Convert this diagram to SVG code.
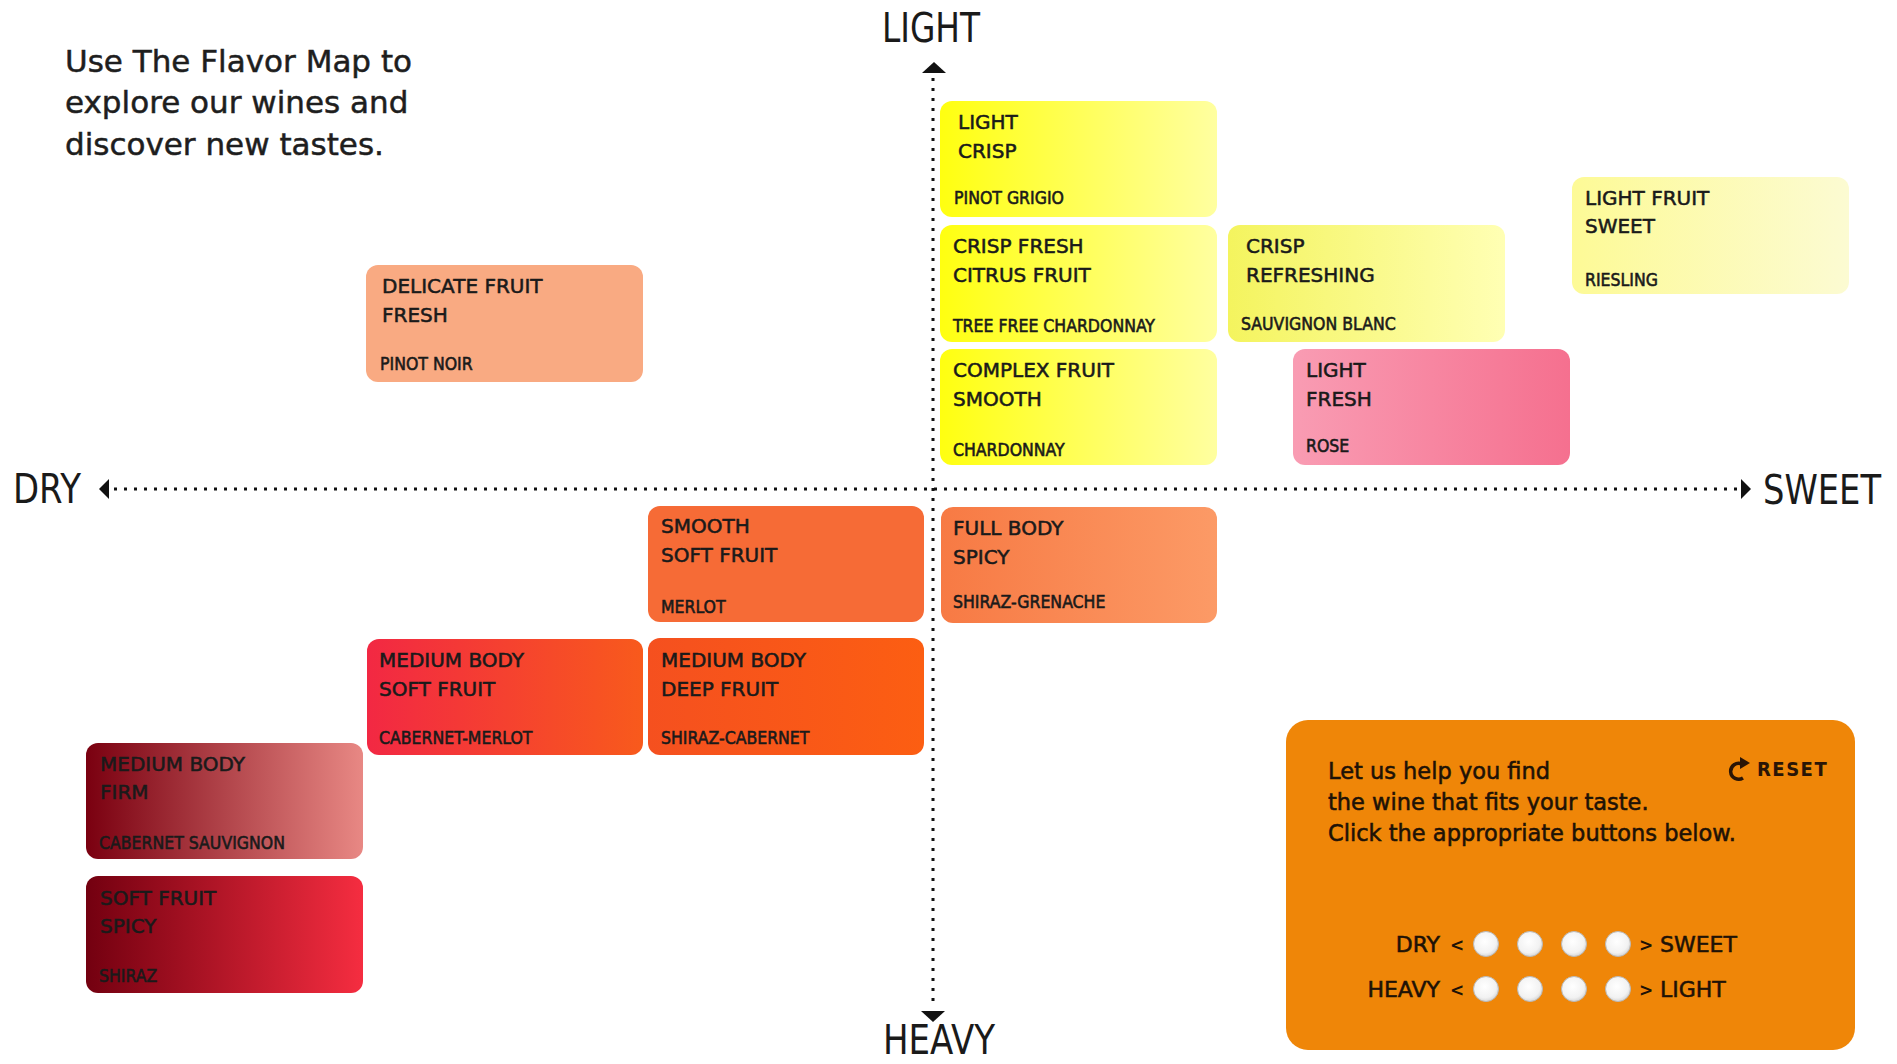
<svg xmlns="http://www.w3.org/2000/svg" width="1897" height="1064" viewBox="0 0 1897 1064">
  <style>
    .t { font-family: 'DejaVu Sans', 'Liberation Sans', sans-serif; font-size: 20px; fill: #1a1a1a; stroke: #1a1a1a; stroke-width: 0.55px; }
    .s { font-family: 'DejaVu Sans Condensed', 'DejaVu Sans', sans-serif; font-stretch: condensed; font-size: 17.5px; fill: #1a1a1a; stroke: #1a1a1a; stroke-width: 0.55px; }
    .ax { font-family: 'DejaVu Sans Condensed', 'DejaVu Sans', sans-serif; font-stretch: condensed; font-size: 40px; fill: #1a1a1a; }
    .head { font-family: 'DejaVu Sans', 'Liberation Sans', sans-serif; font-size: 31px; fill: #1e1e1e; stroke: #1e1e1e; stroke-width: 0.5px; }
    .p { font-family: 'DejaVu Sans', 'Liberation Sans', sans-serif; font-size: 22.5px; fill: #1e1206; stroke: #1e1206; stroke-width: 0.55px; }
    .lbl { font-family: 'DejaVu Sans', 'Liberation Sans', sans-serif; font-size: 22px; fill: #1e1206; stroke: #1e1206; stroke-width: 0.55px; }
    .lt { font-family: 'DejaVu Sans', 'Liberation Sans', sans-serif; font-size: 17px; font-weight: bold; fill: #1e1206; }
    .box { stroke: none; }
    .axis { fill: none; stroke: #111; stroke-width: 3; stroke-dasharray: 3 7; }
    .btn { fill: url(#btn); stroke: #b9b9b9; stroke-width: 1; }
  </style>
  <defs>
    <linearGradient id="g-yel" x1="0" y1="0" x2="1" y2="0">
      <stop offset="0" stop-color="#FFFF10"/><stop offset="1" stop-color="#FFFFA0"/>
    </linearGradient>
    <linearGradient id="g-sauv" x1="0" y1="0" x2="1" y2="0">
      <stop offset="0" stop-color="#F4F45E"/><stop offset="1" stop-color="#FFFFB4"/>
    </linearGradient>
    <linearGradient id="g-ries" x1="0" y1="0" x2="1" y2="0">
      <stop offset="0" stop-color="#FDFA96"/><stop offset="1" stop-color="#FCFBD2"/>
    </linearGradient>
    <linearGradient id="g-rose" x1="0" y1="0" x2="1" y2="0">
      <stop offset="0" stop-color="#F99CB3"/><stop offset="1" stop-color="#F5708F"/>
    </linearGradient>
    <linearGradient id="g-sgren" x1="0" y1="0" x2="1" y2="0">
      <stop offset="0" stop-color="#F77A44"/><stop offset="1" stop-color="#FC9A66"/>
    </linearGradient>
    <linearGradient id="g-cabmer" x1="0" y1="0" x2="1" y2="0">
      <stop offset="0" stop-color="#F22843"/><stop offset="1" stop-color="#F85A1C"/>
    </linearGradient>
    <linearGradient id="g-shcab" x1="0" y1="0" x2="1" y2="0">
      <stop offset="0" stop-color="#F5501F"/><stop offset="1" stop-color="#FC5E12"/>
    </linearGradient>
    <linearGradient id="g-cabsauv" x1="0" y1="0" x2="1" y2="0">
      <stop offset="0" stop-color="#7A0010"/><stop offset="1" stop-color="#E88884"/>
    </linearGradient>
    <linearGradient id="g-shiraz" x1="0" y1="0" x2="1" y2="0">
      <stop offset="0" stop-color="#730010"/><stop offset="1" stop-color="#F52D40"/>
    </linearGradient>
    <radialGradient id="btn" cx="0.45" cy="0.4" r="0.6">
      <stop offset="0" stop-color="#ffffff"/><stop offset="0.75" stop-color="#f2f2f2"/><stop offset="1" stop-color="#d8d8d8"/>
    </radialGradient>
  </defs>

  <rect width="1897" height="1064" fill="#ffffff"/>

  <!-- intro -->
  <g id="intro">
    <text class="head" x="65" y="72">Use The Flavor Map to</text>
    <text class="head" x="65" y="113">explore our wines and</text>
    <text class="head" x="65" y="155">discover new tastes.</text>
  </g>

  <!-- axes -->
  <g id="connectors">
    <line class="axis" x1="933" y1="78" x2="933" y2="1008"/>
    <line class="axis" x1="114" y1="489" x2="1738" y2="489"/>
    <polygon points="934,62 946,73 922,73" fill="#111"/>
    <polygon points="933,1022 945,1011 921,1011" fill="#111"/>
    <polygon points="99,489 109,479 109,499" fill="#111"/>
    <polygon points="1751,489 1741,479 1741,499" fill="#111"/>
  </g>

  <g id="axis-labels">
    <text class="ax" x="882" y="42" textLength="98" lengthAdjust="spacingAndGlyphs">LIGHT</text>
    <text class="ax" x="883" y="1054" font-size="36" textLength="112" lengthAdjust="spacingAndGlyphs">HEAVY</text>
    <text class="ax" x="13" y="503" textLength="68" lengthAdjust="spacingAndGlyphs">DRY</text>
    <text class="ax" x="1763" y="504" textLength="118" lengthAdjust="spacingAndGlyphs">SWEET</text>
  </g>

  <!-- wine nodes -->
  <g id="pinot-grigio">
    <rect class="box" x="940" y="101" width="277" height="116" rx="12" fill="url(#g-yel)"/>
    <text class="t" x="958" y="129">LIGHT</text>
    <text class="t" x="958" y="158">CRISP</text>
    <text class="s" x="954" y="204">PINOT GRIGIO</text>
  </g>
  <g id="tree-free-chardonnay">
    <rect class="box" x="940" y="225" width="277" height="117" rx="12" fill="url(#g-yel)"/>
    <text class="t" x="953" y="253">CRISP FRESH</text>
    <text class="t" x="953" y="282">CITRUS FRUIT</text>
    <text class="s" x="953" y="332">TREE FREE CHARDONNAY</text>
  </g>
  <g id="chardonnay">
    <rect class="box" x="940" y="349" width="277" height="116" rx="12" fill="url(#g-yel)"/>
    <text class="t" x="953" y="377">COMPLEX FRUIT</text>
    <text class="t" x="953" y="406">SMOOTH</text>
    <text class="s" x="953" y="456">CHARDONNAY</text>
  </g>
  <g id="sauvignon-blanc">
    <rect class="box" x="1228" y="225" width="277" height="117" rx="12" fill="url(#g-sauv)"/>
    <text class="t" x="1246" y="253">CRISP</text>
    <text class="t" x="1246" y="282">REFRESHING</text>
    <text class="s" x="1241" y="330">SAUVIGNON BLANC</text>
  </g>
  <g id="riesling">
    <rect class="box" x="1572" y="177" width="277" height="117" rx="12" fill="url(#g-ries)"/>
    <text class="t" x="1585" y="205">LIGHT FRUIT</text>
    <text class="t" x="1585" y="233">SWEET</text>
    <text class="s" x="1585" y="286">RIESLING</text>
  </g>
  <g id="rose">
    <rect class="box" x="1293" y="349" width="277" height="116" rx="12" fill="url(#g-rose)"/>
    <text class="t" x="1306" y="377">LIGHT</text>
    <text class="t" x="1306" y="406">FRESH</text>
    <text class="s" x="1306" y="452">ROSE</text>
  </g>
  <g id="pinot-noir">
    <rect class="box" x="366" y="265" width="277" height="117" rx="12" fill="#F9AA82"/>
    <text class="t" x="382" y="293">DELICATE FRUIT</text>
    <text class="t" x="382" y="322">FRESH</text>
    <text class="s" x="380" y="370">PINOT NOIR</text>
  </g>
  <g id="merlot">
    <rect class="box" x="648" y="506" width="276" height="116" rx="12" fill="#F66B36"/>
    <text class="t" x="661" y="533">SMOOTH</text>
    <text class="t" x="661" y="562">SOFT FRUIT</text>
    <text class="s" x="661" y="613">MERLOT</text>
  </g>
  <g id="shiraz-grenache">
    <rect class="box" x="941" y="507" width="276" height="116" rx="12" fill="url(#g-sgren)"/>
    <text class="t" x="953" y="535">FULL BODY</text>
    <text class="t" x="953" y="564">SPICY</text>
    <text class="s" x="953" y="608">SHIRAZ-GRENACHE</text>
  </g>
  <g id="cabernet-merlot">
    <rect class="box" x="367" y="639" width="276" height="116" rx="12" fill="url(#g-cabmer)"/>
    <text class="t" x="379" y="667">MEDIUM BODY</text>
    <text class="t" x="379" y="696">SOFT FRUIT</text>
    <text class="s" x="379" y="744">CABERNET-MERLOT</text>
  </g>
  <g id="shiraz-cabernet">
    <rect class="box" x="648" y="638" width="276" height="117" rx="12" fill="url(#g-shcab)"/>
    <text class="t" x="661" y="667">MEDIUM BODY</text>
    <text class="t" x="661" y="696">DEEP FRUIT</text>
    <text class="s" x="661" y="744">SHIRAZ-CABERNET</text>
  </g>
  <g id="cabernet-sauvignon">
    <rect class="box" x="86" y="743" width="277" height="116" rx="12" fill="url(#g-cabsauv)"/>
    <text class="t" x="100" y="771">MEDIUM BODY</text>
    <text class="t" x="100" y="799">FIRM</text>
    <text class="s" x="99" y="849">CABERNET SAUVIGNON</text>
  </g>
  <g id="shiraz">
    <rect class="box" x="86" y="876" width="277" height="117" rx="12" fill="url(#g-shiraz)"/>
    <text class="t" x="100" y="905">SOFT FRUIT</text>
    <text class="t" x="100" y="933">SPICY</text>
    <text class="s" x="99" y="982">SHIRAZ</text>
  </g>

  <!-- taste finder panel -->
  <g id="finder">
    <rect x="1286" y="720" width="569" height="330" rx="22" fill="#EF8608"/>
    <text class="p" x="1328" y="779">Let us help you find</text>
    <text class="p" x="1328" y="810">the wine that fits your taste.</text>
    <text class="p" x="1328" y="841">Click the appropriate buttons below.</text>

    <g id="reset">
      <path d="M1742,764 A8,8 0 1 0 1743,778" fill="none" stroke="#2a1506" stroke-width="3.5"/>
      <polygon points="1740,757 1750,763 1740,769" fill="#2a1506"/>
      <text x="1757" y="776" font-family="'DejaVu Sans Condensed', 'DejaVu Sans', sans-serif" font-stretch="condensed" font-weight="bold" font-size="20" letter-spacing="1.5" fill="#2a1506">RESET</text>
    </g>

    <text class="lbl" x="1440" y="952" text-anchor="end">DRY</text>
    <text class="lt" x="1450" y="951">&lt;</text>
    <circle class="btn" cx="1486" cy="944" r="12.5"/>
    <circle class="btn" cx="1530" cy="944" r="12.5"/>
    <circle class="btn" cx="1574" cy="944" r="12.5"/>
    <circle class="btn" cx="1618" cy="944" r="12.5"/>
    <text class="lt" x="1639" y="951">&gt;</text>
    <text class="lbl" x="1660" y="952">SWEET</text>

    <text class="lbl" x="1440" y="997" text-anchor="end">HEAVY</text>
    <text class="lt" x="1450" y="996">&lt;</text>
    <circle class="btn" cx="1486" cy="989" r="12.5"/>
    <circle class="btn" cx="1530" cy="989" r="12.5"/>
    <circle class="btn" cx="1574" cy="989" r="12.5"/>
    <circle class="btn" cx="1618" cy="989" r="12.5"/>
    <text class="lt" x="1639" y="996">&gt;</text>
    <text class="lbl" x="1660" y="997">LIGHT</text>
  </g>
</svg>
